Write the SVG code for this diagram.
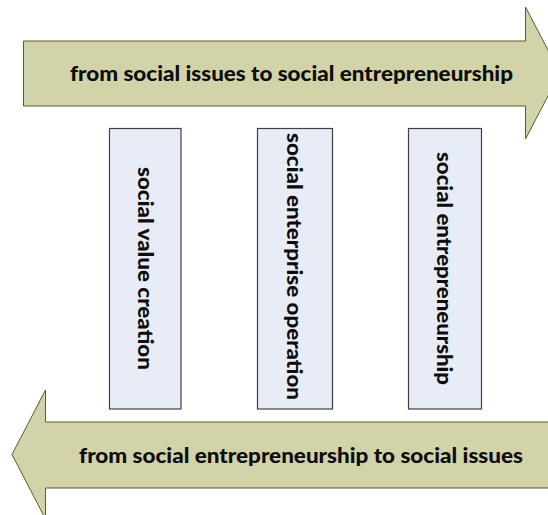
<svg xmlns="http://www.w3.org/2000/svg" width="548" height="515" viewBox="0 0 548 515">
  <style>
    .arrow { fill: #d3d3aa; stroke: #4f6228; stroke-width: 1; }
    .box { fill: #e7ecf7; stroke: #404040; stroke-width: 1.2; }
    .lbl { font-family: "Lato", "Liberation Sans", sans-serif; font-weight: 900; font-size: 21px; fill: #0d0d0d; text-anchor: middle; }
  </style>
  <rect width="548" height="515" fill="#ffffff"/>
  <g id="connectors">
    <g id="arrow-top">
      <path class="arrow" d="M23.5,41 L525.5,41 L525.5,7 L560,73 L525.5,139 L525.5,106 L23.5,106 Z"/>
      <text class="lbl" x="291.5" y="81" textLength="443" lengthAdjust="spacingAndGlyphs">from social issues to social entrepreneurship</text>
    </g>
    <g id="arrow-bottom">
      <path class="arrow" d="M560,422 L45.5,422 L45.5,390 L12,454.5 L45.5,519 L45.5,488 L560,488 Z"/>
      <text class="lbl" x="301" y="463" textLength="444" lengthAdjust="spacingAndGlyphs">from social entrepreneurship to social issues</text>
    </g>
  </g>
  <g id="node-value">
    <rect class="box" x="109.5" y="128.5" width="71.5" height="280.5"/>
    <text class="lbl" transform="translate(145,268.5) rotate(90)" x="0" y="0" dy="0.35em" textLength="203" lengthAdjust="spacingAndGlyphs">social value creation</text>
  </g>
  <g id="node-operation">
    <rect class="box" x="257.5" y="128.5" width="75" height="280.5"/>
    <text class="lbl" transform="translate(294.5,266.5) rotate(90)" x="0" y="0" dy="0.35em" textLength="267" lengthAdjust="spacingAndGlyphs">social enterprise operation</text>
  </g>
  <g id="node-entrepreneurship">
    <rect class="box" x="408.5" y="128.5" width="73" height="280.5"/>
    <text class="lbl" transform="translate(444.5,268.5) rotate(90)" x="0" y="0" dy="0.35em" textLength="233" lengthAdjust="spacingAndGlyphs">social entrepreneurship</text>
  </g>
</svg>
